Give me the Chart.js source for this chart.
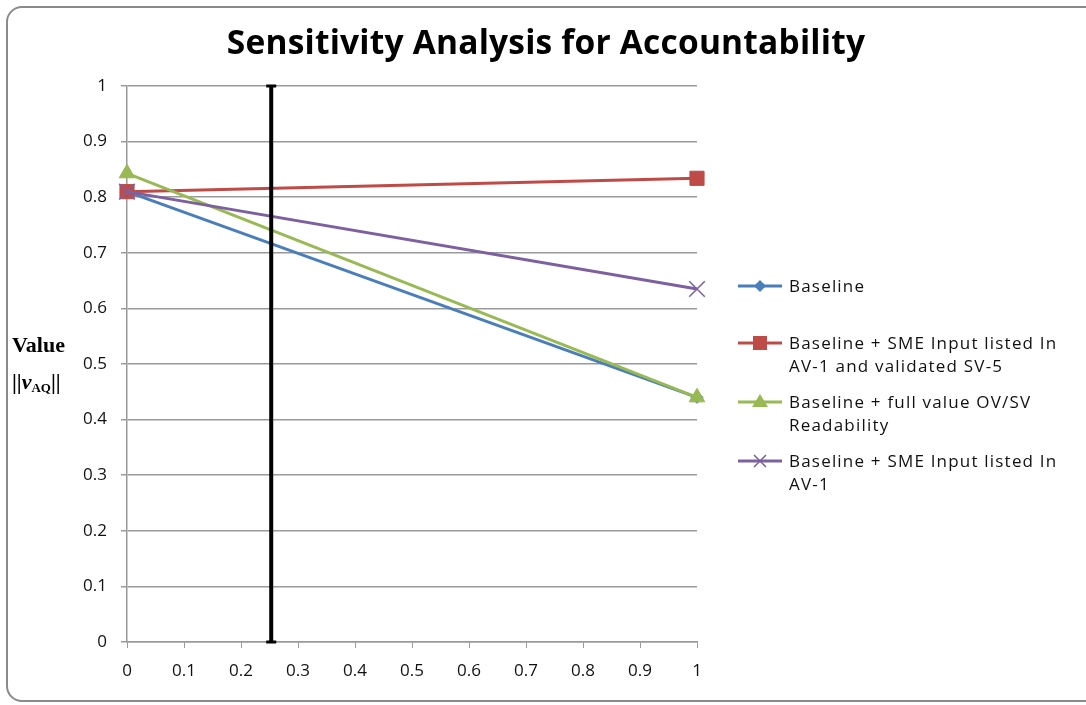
<!DOCTYPE html>
<html>
<head>
<meta charset="utf-8">
<script src="https://cdn.jsdelivr.net/npm/chart.js@4.4.1/dist/chart.umd.min.js"></script>
<style>
    body { margin: 0; background: #fff; }
    #wrap { position: relative; width: 1086px; height: 705px; overflow: hidden; }
    #frame {
        position: absolute; left: 6px; top: 6px; width: 1100px; height: 696px;
        border: 2px solid #8a8a8a; border-radius: 16px; box-sizing: border-box;
    }
    #salesChart { position: absolute; left: 0; top: 0; }
    #title {
        position: absolute; left: 0; width: 1092px; top: 19px; text-align: center;
        font-family: "Open Sans", sans-serif; font-weight: bold; font-size: 33.5px;
        letter-spacing: 0.2px; line-height: 44px; color: #000;
    }
    .ytitle {
        position: absolute; left: 12px;
        font-family: "Liberation Serif", "Times New Roman", serif; font-weight: bold;
        font-size: 22px; line-height: 24px; color: #000;
    }
    .ytitle sub { font-size: 13px; vertical-align: -3px; }
    #legend {
        position: absolute; left: 738px; top: 274px;
        font-family: "Open Sans", sans-serif; font-size: 17px; letter-spacing: 1.2px; color: #111;
    }
    .item { position: absolute; left: 0; width: 350px; line-height: 23px; }
    .item svg { position: absolute; left: 0; top: 0; }
    .item span { position: absolute; left: 51px; top: 0; white-space: nowrap; }
</style>
</head>
<body>
<div id="wrap">
    <div id="frame"></div>
    <canvas id="salesChart" width="1086" height="705"></canvas>
    <div id="title">Sensitivity Analysis for Accountability</div>
    <div class="ytitle" style="top: 333px;">Value</div>
    <div class="ytitle" style="top: 370px;">||<i>v</i><sub>AQ</sub>||</div>
    <div id="legend"></div>
</div>
<script>
    // ===============================
    // Data
    // ===============================
    const xValues = [0, 1];
    const baseline = [0.81, 0.44];
    const smeValidated = [0.81, 0.834];
    const fullValue = [0.843, 0.44];
    const smeInput = [0.81, 0.635];
    const markerX = [0.253, 0.253];
    const markerY = [0, 1];
    const xTicks = [0, 0.1, 0.2, 0.3, 0.4, 0.5, 0.6, 0.7, 0.8, 0.9, 1];
    const yTicks = [0, 0.1, 0.2, 0.3, 0.4, 0.5, 0.6, 0.7, 0.8, 0.9, 1];
    const seriesNames = [
        ['Baseline'],
        ['Baseline + SME Input listed In', 'AV-1 and validated SV-5'],
        ['Baseline + full value OV/SV', 'Readability'],
        ['Baseline + SME Input listed In', 'AV-1']
    ];

    const toPoints = (xs, ys) => xs.map((x, i) => ({ x: x, y: ys[i] }));

    const styles = [
        { color: '#4a7ebb', pointStyle: 'rectRot', radius: 6 },
        { color: '#be4b48', pointStyle: 'rect', radius: 10 },
        { color: '#98b954', pointStyle: 'triangle', radius: 9 },
        { color: '#7d60a0', pointStyle: 'crossRot', radius: 11 }
    ];
    const seriesData = [baseline, smeValidated, fullValue, smeInput];

    const datasets = seriesData.map((vals, i) => ({
        label: seriesNames[i].join(' '),
        data: toPoints(xValues, vals),
        borderColor: styles[i].color,
        backgroundColor: styles[i].color,
        borderWidth: 3,
        clip: false,
        pointStyle: styles[i].pointStyle,
        pointRadius: styles[i].radius,
        pointBorderWidth: styles[i].pointStyle === 'crossRot' ? 1.5 : 1,
        pointBorderColor: styles[i].color,
        order: 4 - i
    }));

    datasets.push({
        label: 'marker',
        data: toPoints(markerX, markerY),
        borderColor: '#000',
        backgroundColor: '#000',
        borderWidth: 4,
        clip: false,
        pointStyle: 'line',
        pointRadius: 5,
        pointBorderWidth: 3,
        order: -1
    });

    // ===============================
    // Chart.js Configuration
    // ===============================
    const ctx = document.getElementById('salesChart');
    new Chart(ctx.getContext('2d'), {
        type: 'line',
        data: { datasets: datasets },
        options: {
            responsive: false,
            animation: false,
            layout: { padding: { left: 0, right: 389, top: 86, bottom: 0 } },
            plugins: {
                legend: { display: false },
                tooltip: { enabled: false }
            },
            scales: {
                x: {
                    type: 'linear',
                    min: 0,
                    max: 1,
                    afterFit: s => { s.height = 63; },
                    afterBuildTicks: s => { s.ticks = xTicks.map(v => ({ value: v })); },
                    ticks: {
                        color: '#111',
                        padding: 13,
                        font: { family: 'Open Sans', size: 17 },
                        callback: v => String(v)
                    },
                    grid: { drawOnChartArea: false, drawTicks: true, tickLength: 6, color: '#9a9a9a' },
                    border: { color: '#9a9a9a', width: 1.5 }
                },
                y: {
                    min: 0,
                    max: 1,
                    afterFit: s => { s.width = 127; },
                    afterBuildTicks: s => { s.ticks = yTicks.map(v => ({ value: v })); },
                    ticks: {
                        color: '#111',
                        padding: 14,
                        font: { family: 'Open Sans', size: 17 },
                        callback: v => String(v)
                    },
                    grid: { color: '#9a9a9a', lineWidth: 1.5, tickLength: 6 },
                    border: { color: '#9a9a9a', width: 1.5 }
                }
            }
        }
    });

    // ===============================
    // Legend (right side)
    // ===============================
    const legend = document.getElementById('legend');
    const rowTops = [0, 57, 116, 175];
    const markerSvg = st => {
        const c = st.color;
        let m = '';
        if (st.pointStyle === 'rectRot') m = `<polygon points="22,6 28,12 22,18 16,12" fill="${c}"/>`;
        if (st.pointStyle === 'rect') m = `<rect x="15" y="5" width="14" height="14" fill="${c}"/>`;
        if (st.pointStyle === 'triangle') m = `<polygon points="22,4 30,17 14,17" fill="${c}"/>`;
        if (st.pointStyle === 'crossRot') m = `<path d="M16,6 L28,18 M28,6 L16,18" stroke="${c}" stroke-width="1.5"/>`;
        return `<svg width="46" height="24"><line x1="0" y1="12" x2="44" y2="12" stroke="${c}" stroke-width="3"/>${m}</svg>`;
    };
    seriesNames.forEach((lines, i) => {
        const item = document.createElement('div');
        item.className = 'item';
        item.style.top = rowTops[i] + 'px';
        item.innerHTML = markerSvg(styles[i]) + '<span>' + lines.join('<br>') + '</span>';
        legend.appendChild(item);
    });
</script>
</body>
</html>
